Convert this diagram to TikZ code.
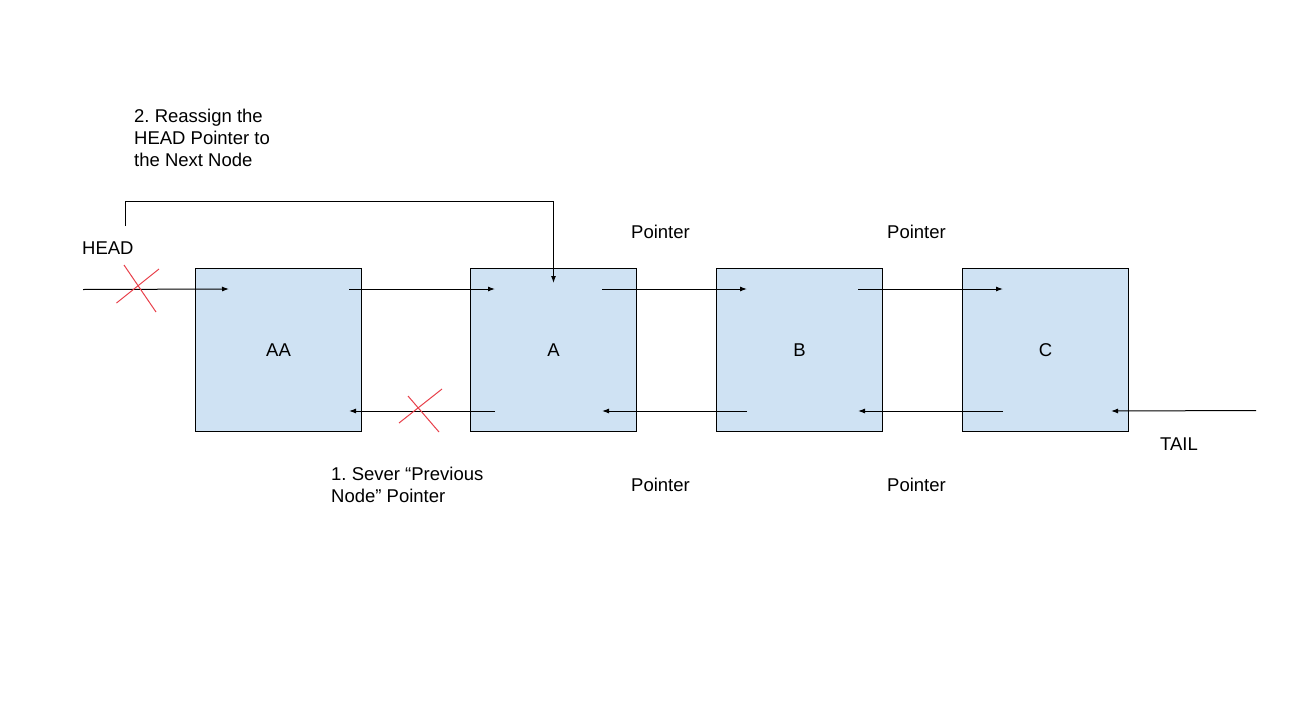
\documentclass[tikz,border=0pt]{standalone}
\usepackage{fontspec}
\setmainfont{Liberation Sans}
\usetikzlibrary{arrows.meta,calc}
\definecolor{boxfill}{HTML}{CFE2F3}
\definecolor{crossred}{HTML}{E8404A}
\frenchspacing
\begin{document}
\begin{tikzpicture}[x=1pt,y=-1pt,
  listbox/.style={draw=black,line width=1pt,fill=boxfill,minimum width=166pt,minimum height=163pt,inner sep=0pt,font=\fontsize{18.5}{22}\selectfont},
  ptr/.style={line width=1pt,-{Latex[length=7pt,width=5pt]}},
  cross/.style={draw=crossred,line width=1pt},
  lbl/.style={inner sep=0pt,anchor=base west,font=\fontsize{18.5}{22}\selectfont,align=left}]
\useasboundingbox (0,0) rectangle (1290,723);
\fill[white] (0,0) rectangle (1290,723);
% boxes
\node[listbox] (AA) at (278.5,350) {AA};
\node[listbox] (A) at (553.5,350) {A};
\node[listbox] (B) at (799.5,350) {B};
\node[listbox] (C) at (1045.5,350) {C};
% free ends
\coordinate (headin) at (83,289.5);
\coordinate (tailin) at (1256,410.5);
\coordinate (headstart) at (125.5,226);
% forward pointers
\draw[ptr] (headin) -- ($(AA.north west)+(34,21)$);
\draw[ptr] ($(AA.north east)+(-13,21)$) -- ($(A.north west)+(25,21)$);
\draw[ptr] ($(A.north east)+(-35,21)$) -- ($(B.north west)+(31,21)$);
\draw[ptr] ($(B.north east)+(-25,21)$) -- ($(C.north west)+(41,21)$);
% backward pointers
\draw[ptr] ($(A.south west)+(25,-21)$) -- ($(AA.south east)+(-13,-21)$);
\draw[ptr] ($(B.south west)+(31,-21)$) -- ($(A.south east)+(-35,-21)$);
\draw[ptr] ($(C.south west)+(41,-21)$) -- ($(B.south east)+(-25,-21)$);
\draw[ptr] (tailin) -- ($(C.south east)+(-18,-21)$);
% head reassignment
\draw[ptr] (headstart) |- (553.5,201.5) -- ($(A.north)+(0,15)$);
% crosses
\draw[cross] (116.5,303) -- (159,269);
\draw[cross] (124,265) -- (156,312);
\draw[cross] (399,423) -- (442,389);
\draw[cross] (408,396) -- (439,432);
% labels
\node[lbl] (headlbl) at (82,254) {HEAD};
\node[lbl] (taillbl) at (1160,450) {TAIL};
\node[lbl] (reassign) at (134,166.5) {2. Reassign the\\HEAD Pointer to\\the Next Node};
\node[lbl] (sever) at (331,502.5) {1. Sever “Previous\\Node” Pointer};
\node[lbl] (p1) at (631,238.5) {Pointer};
\node[lbl] (p2) at (887,238.5) {Pointer};
\node[lbl] (p3) at (631,491.5) {Pointer};
\node[lbl] (p4) at (887,491.5) {Pointer};
\end{tikzpicture}
\end{document}
